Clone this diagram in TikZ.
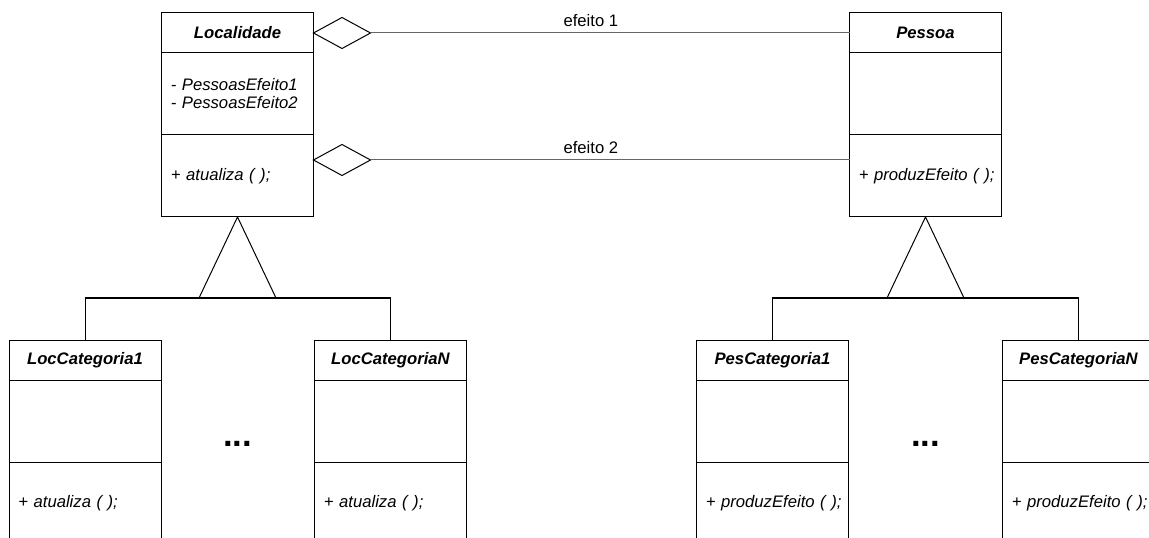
\documentclass[tikz,border=0pt]{standalone}
\usepackage{fontspec}
\setmainfont{Liberation Sans}
\usetikzlibrary{positioning,shapes.geometric}
\newcommand{\cind}{\hspace*{5pt}}

\begin{document}
\begin{tikzpicture}[x=0.75pt,y=-0.75pt,line width=0.75pt,
  font=\fontsize{12.5}{13.5}\selectfont,
  cname/.style={draw,rectangle,minimum width=114pt,minimum height=30pt,inner sep=0pt,outer sep=0pt,
    font=\fontsize{12.5}{13.5}\selectfont\bfseries\itshape},
  cpart/.style={draw,rectangle,minimum height=61.5pt,text width=110pt,inner xsep=2pt,inner ysep=0pt,
    outer sep=0pt,align=left,font=\fontsize{12.5}{13.5}\selectfont\itshape},
  agg/.style={draw,diamond,minimum width=42.75pt,minimum height=23.25pt,inner sep=0pt,outer sep=0pt},
  assoc/.style={draw=black!60},
  dots/.style={font=\fontsize{26}{26}\selectfont\bfseries,inner sep=0pt}]
\useasboundingbox (0,0) rectangle (1149,538);
\clip (0,0) rectangle (1149,538);
% superclasses
\node[cname] (Loc) at (237.5,33) {Localidade};
\node[cpart,below=0pt of Loc] (LocAtt) {\cind- PessoasEfeito1\\\cind- PessoasEfeito2};
\node[cpart,below=0pt of LocAtt] (LocOps) {\cind+ atualiza ( );};
\node[cname] (Pes) at (925.5,33) {Pessoa};
\node[cpart,below=0pt of Pes] (PesAtt) {};
\node[cpart,below=0pt of PesAtt] (PesOps) {\cind+ produzEfeito ( );};
% aggregations
\node[agg,anchor=west] (Agg1) at (Loc.east) {};
\node[agg,anchor=west] (Agg2) at ([yshift=-18.75pt]LocOps.north east) {};
\draw[assoc] (Agg1.east) -- (Pes.west) node[pos=0.46,above=1pt,text=black] (Ef1) {efeito 1};
\draw[assoc] (Agg2.east) -- (Agg2.east -| PesOps.west) node[pos=0.46,above=1pt,text=black] (Ef2) {efeito 2};
% subclasses
\node[cname] (LocCat1) at (85,360.5) {LocCategoria1};
\node[cpart,below=0pt of LocCat1] (LocCat1Att) {};
\node[cpart,below=0pt of LocCat1Att] (LocCat1Ops) {\cind+ atualiza ( );};
\node[cname] (LocCatN) at (390.5,360.5) {LocCategoriaN};
\node[cpart,below=0pt of LocCatN] (LocCatNAtt) {};
\node[cpart,below=0pt of LocCatNAtt] (LocCatNOps) {\cind+ atualiza ( );};
\node[cname] (PesCat1) at (772.5,360.5) {PesCategoria1};
\node[cpart,below=0pt of PesCat1] (PesCat1Att) {};
\node[cpart,below=0pt of PesCat1Att] (PesCat1Ops) {\cind+ produzEfeito ( );};
\node[cname] (PesCatN) at (1078.5,360.5) {PesCategoriaN};
\node[cpart,below=0pt of PesCatN] (PesCatNAtt) {};
\node[cpart,below=0pt of PesCatNAtt] (PesCatNOps) {\cind+ produzEfeito ( );};
% generalizations
\draw (LocOps.south) -- ++(-38.5,81) -- ++(77,0) -- cycle;
\path (LocOps.south) ++(0,81) coordinate (LocBar);
\draw (LocCat1.north) |- (LocBar) -| (LocCatN.north);
\draw (PesOps.south) -- ++(-38.5,81) -- ++(77,0) -- cycle;
\path (PesOps.south) ++(0,81) coordinate (PesBar);
\draw (PesCat1.north) |- (PesBar) -| (PesCatN.north);
\node[dots] (LocDots) at (237.5,444) {...};
\node[dots] (PesDots) at (925.5,444) {...};
\end{tikzpicture}
\end{document}
